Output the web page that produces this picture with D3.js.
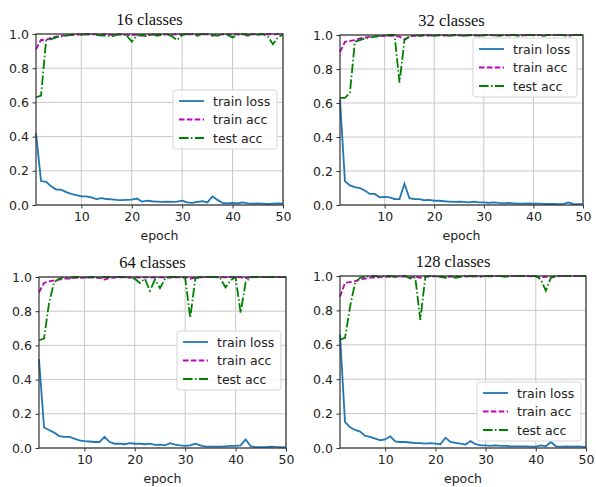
<!DOCTYPE html>
<html>
<head>
<meta charset="utf-8">
<script src="https://cdn.jsdelivr.net/npm/d3@7"></script>
<style>
  body { margin: 0; background: #fff; }
  svg { display: block; }
  .tick text { font-family: "DejaVu Sans", sans-serif; font-size: 12.5px; fill: #222; }
</style>
</head>
<body>
<div id="chart"></div>
<script>
var width = 596;
var height = 487;

// series names and tick labels
var seriesNames = ["train loss", "train acc", "test acc"];
var titles = ["16 classes", "32 classes", "64 classes", "128 classes"];
var xTicks = [10, 20, 30, 40, 50];
var yTicks = [0, 0.2, 0.4, 0.6, 0.8, 1.0];

// 16 classes
var loss16 = [0.42,0.14,0.135,0.11,0.09,0.09,0.075,0.065,0.058,0.05,0.05,0.045,0.035,0.04,0.035,0.033,0.03,0.028,0.03,0.032,0.038,0.02,0.025,0.022,0.02,0.018,0.02,0.018,0.02,0.025,0.015,0.012,0.018,0.022,0.015,0.05,0.03,0.012,0.01,0.012,0.01,0.015,0.01,0.008,0.01,0.008,0.006,0.008,0.01,0.008];
var trainAcc16 = [0.91,0.965,0.965,0.98,0.985,0.99,0.992,0.995,0.996,0.997,0.997,0.998,0.998,0.997,0.998,0.995,0.998,0.997,0.995,0.993,0.996,0.99,0.997,0.995,0.998,0.997,0.998,0.996,0.998,0.997,0.998,0.998,0.997,0.998,0.998,0.99,0.996,0.998,0.998,0.998,0.999,0.998,0.999,0.998,0.999,0.998,0.999,0.998,0.999,0.999];
var testAcc16 = [0.63,0.64,0.96,0.97,0.98,0.985,0.99,0.995,1.0,0.995,1.0,1.0,0.995,0.99,0.99,0.985,0.995,1.0,0.99,0.955,0.99,0.995,0.985,1.0,0.99,0.995,1.0,0.985,0.965,0.995,1.0,1.0,0.99,1.0,1.0,0.995,0.99,1.0,0.995,0.98,0.995,1.0,0.99,1.0,0.995,1.0,0.985,0.94,0.98,1.0];

// 32 classes
var loss32 = [0.62,0.14,0.115,0.105,0.1,0.085,0.065,0.065,0.045,0.048,0.045,0.035,0.035,0.125,0.04,0.035,0.035,0.028,0.03,0.025,0.025,0.022,0.02,0.018,0.02,0.018,0.015,0.02,0.015,0.015,0.012,0.015,0.012,0.01,0.012,0.01,0.008,0.008,0.01,0.008,0.008,0.007,0.006,0.006,0.005,0.005,0.015,0.006,0.005,0.005];
var trainAcc32 = [0.9,0.96,0.965,0.97,0.98,0.985,0.99,0.99,0.993,0.995,0.995,0.995,0.99,0.975,0.99,0.995,0.996,0.997,0.997,0.998,0.998,0.997,0.998,0.998,0.997,0.998,0.998,0.997,0.998,0.998,0.999,0.998,0.998,0.999,0.998,0.999,0.999,0.998,0.999,0.999,0.999,0.999,0.999,0.999,0.999,0.999,0.996,0.999,0.999,0.999];
var testAcc32 = [0.63,0.63,0.66,0.96,0.97,0.98,0.985,0.99,0.995,0.995,1.0,1.0,0.72,0.97,0.99,1.0,0.995,1.0,1.0,0.995,1.0,1.0,0.995,1.0,1.0,0.995,1.0,1.0,0.995,1.0,1.0,1.0,0.995,1.0,1.0,1.0,0.995,1.0,1.0,1.0,1.0,0.995,1.0,1.0,1.0,1.0,0.995,1.0,1.0,1.0];

// 64 classes
var loss64 = [0.52,0.12,0.105,0.09,0.07,0.065,0.065,0.055,0.045,0.04,0.038,0.035,0.035,0.065,0.035,0.025,0.025,0.022,0.028,0.025,0.025,0.022,0.025,0.018,0.02,0.015,0.028,0.02,0.015,0.012,0.015,0.025,0.015,0.008,0.008,0.008,0.008,0.01,0.012,0.012,0.015,0.05,0.01,0.005,0.005,0.005,0.008,0.006,0.005,0.003];
var trainAcc64 = [0.91,0.965,0.975,0.98,0.985,0.99,0.99,0.995,0.995,0.996,0.997,0.997,0.995,0.985,0.995,0.997,0.998,0.998,0.997,0.998,0.997,0.998,0.997,0.998,0.998,0.998,0.996,0.998,0.998,0.999,0.99,0.997,0.998,0.999,0.999,0.999,0.999,0.998,0.999,0.999,0.998,0.994,0.998,0.999,0.999,0.999,0.999,0.999,0.999,0.999];
var testAcc64 = [0.63,0.64,0.85,0.97,0.99,1.0,0.995,1.0,1.0,0.995,1.0,1.0,0.995,1.0,1.0,1.0,1.0,1.0,0.995,0.99,0.965,0.99,0.92,0.985,0.935,0.99,1.0,1.0,1.0,0.995,0.76,0.99,1.0,1.0,1.0,1.0,0.99,0.94,0.98,1.0,0.79,0.97,1.0,1.0,1.0,1.0,1.0,1.0,1.0,1.0];

// 128 classes
var loss128 = [0.66,0.15,0.12,0.105,0.095,0.07,0.065,0.055,0.045,0.05,0.068,0.038,0.035,0.035,0.032,0.028,0.028,0.025,0.028,0.025,0.022,0.06,0.035,0.03,0.025,0.02,0.04,0.022,0.015,0.015,0.012,0.015,0.012,0.012,0.01,0.01,0.01,0.01,0.008,0.008,0.015,0.01,0.035,0.01,0.008,0.01,0.008,0.01,0.008,0.005];
var trainAcc128 = [0.88,0.96,0.965,0.97,0.98,0.985,0.99,0.99,0.993,0.995,0.995,0.996,0.997,0.997,0.99,0.996,0.99,0.997,0.998,0.998,0.997,0.994,0.997,0.998,0.998,0.998,0.996,0.998,0.998,0.999,0.998,0.999,0.999,0.999,0.999,0.999,0.999,0.999,0.998,0.998,0.99,0.997,0.99,0.998,0.999,0.999,0.999,0.999,0.999,0.999];
var testAcc128 = [0.63,0.64,0.82,0.96,0.99,0.995,1.0,1.0,0.995,1.0,1.0,0.995,1.0,1.0,0.985,0.99,0.745,0.995,1.0,1.0,0.995,0.99,1.0,0.99,0.995,1.0,1.0,1.0,0.995,1.0,1.0,1.0,1.0,0.995,1.0,1.0,1.0,1.0,1.0,1.0,0.98,0.915,0.99,1.0,1.0,1.0,1.0,1.0,1.0,1.0];

var colors = ["#1f77b4", "#bf00bf", "#008000"];
var dashes = [null, "5.5,2.4", "9.6,2.4,1.5,2.4"];

// panel layout in pixels
var panels = [
    {title: titles[0], series: [loss16, trainAcc16, testAcc16], x0: 36, x1: 283, y0: 205, y1: 34, lx: 173, ly: 90},
    {title: titles[1], series: [loss32, trainAcc32, testAcc32], x0: 340, x1: 583, y0: 205, y1: 35, lx: 473, ly: 38},
    {title: titles[2], series: [loss64, trainAcc64, testAcc64], x0: 39, x1: 286, y0: 448, y1: 277, lx: 177, ly: 331},
    {title: titles[3], series: [loss128, trainAcc128, testAcc128], x0: 340, x1: 586, y0: 448, y1: 276, lx: 477, ly: 382}
];

var svg = d3.select("#chart")
    .append("svg")
    .attr("width", width)
    .attr("height", height);

panels.forEach(function(p) {
    var x = d3.scaleLinear().domain([1, 50]).range([p.x0, p.x1]);
    var y = d3.scaleLinear().domain([0, 1]).range([p.y0, p.y1]);
    var g = svg.append("g");

    // grid
    g.selectAll(".gx").data(xTicks).enter().append("line")
        .attr("x1", d => x(d)).attr("x2", d => x(d))
        .attr("y1", p.y0).attr("y2", p.y1)
        .attr("stroke", "#c8c8c8").attr("stroke-width", 1);
    g.selectAll(".gy").data(yTicks).enter().append("line")
        .attr("x1", p.x0).attr("x2", p.x1)
        .attr("y1", d => y(d)).attr("y2", d => y(d))
        .attr("stroke", "#c8c8c8").attr("stroke-width", 1);

    // lines
    var line = d3.line()
        .x((d, i) => x(i + 1))
        .y(d => y(d));
    p.series.forEach(function(s, k) {
        g.append("path")
            .datum(s)
            .attr("d", line)
            .attr("fill", "none")
            .attr("stroke", colors[k])
            .attr("stroke-width", 1.8)
            .attr("stroke-dasharray", dashes[k]);
    });

    // frame
    g.append("rect")
        .attr("x", p.x0).attr("y", p.y1)
        .attr("width", p.x1 - p.x0).attr("height", p.y0 - p.y1)
        .attr("fill", "none").attr("stroke", "#333").attr("stroke-width", 1.2);

    // axes
    var ax = g.append("g")
        .attr("transform", "translate(0," + p.y0 + ")")
        .call(d3.axisBottom(x).tickValues(xTicks).tickSize(3.5).tickPadding(3.5));
    var ay = g.append("g")
        .attr("transform", "translate(" + p.x0 + ",0)")
        .call(d3.axisLeft(y).tickValues(yTicks).tickFormat(d3.format(".1f")).tickSize(3.5).tickPadding(3.5));
    [ax, ay].forEach(function(a) {
        a.select(".domain").remove();
        a.selectAll(".tick line").attr("stroke", "#333");
    });

    // axis label
    g.append("text")
        .attr("x", (p.x0 + p.x1) / 2)
        .attr("y", p.y0 + 35)
        .attr("text-anchor", "middle")
        .style("font-family", "DejaVu Sans, sans-serif")
        .style("font-size", "12.5px")
        .style("fill", "#222")
        .text("epoch");

    // title
    g.append("text")
        .attr("x", (p.x0 + p.x1) / 2 - 10)
        .attr("y", p.y1 - 9)
        .attr("text-anchor", "middle")
        .style("font-family", "Liberation Serif, serif")
        .style("font-size", "16.5px")
        .style("fill", "#111")
        .text(p.title);

    // legend
    var lg = g.append("g").attr("transform", "translate(" + p.lx + "," + p.ly + ")");
    lg.append("rect")
        .attr("width", 104).attr("height", 59).attr("rx", 3)
        .attr("fill", "#fff").attr("fill-opacity", 0.85)
        .attr("stroke", "#d5d5d5");
    seriesNames.forEach(function(name, k) {
        var yy = 11 + k * 18.5;
        lg.append("line")
            .attr("x1", 6).attr("x2", 31)
            .attr("y1", yy).attr("y2", yy)
            .attr("stroke", colors[k])
            .attr("stroke-width", 1.8)
            .attr("stroke-dasharray", dashes[k]);
        lg.append("text")
            .attr("x", 40).attr("y", yy + 4.5)
            .style("font-family", "DejaVu Sans, sans-serif")
            .style("font-size", "12.5px")
            .style("fill", "#222")
            .text(name);
    });
});
</script>
</body>
</html>
